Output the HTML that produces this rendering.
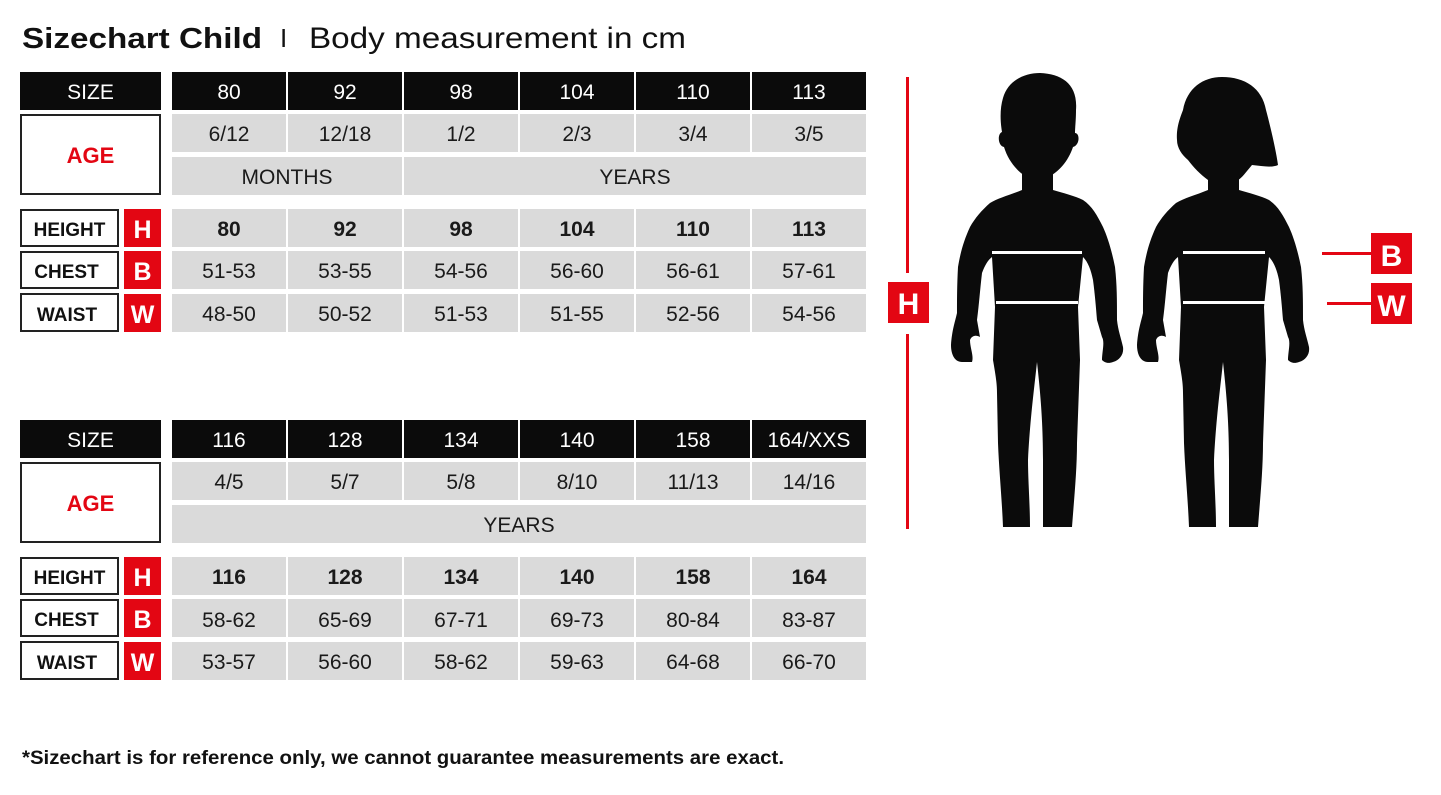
<!DOCTYPE html>
<html><head><meta charset="utf-8"><style>
html,body{margin:0;padding:0;background:#fff;}
svg{display:block;font-family:"Liberation Sans",Arial,sans-serif;}
</style></head><body>
<svg width="1441" height="795" viewBox="0 0 1441 795" xmlns="http://www.w3.org/2000/svg">
<text x="22" y="48" font-size="29" font-weight="bold" fill="#111" textLength="240" lengthAdjust="spacingAndGlyphs">Sizechart Child</text>
<text x="280" y="47" font-size="26" fill="#111">I</text>
<text x="309" y="48" font-size="30" fill="#111" textLength="377" lengthAdjust="spacingAndGlyphs">Body measurement in cm</text>

<g id="t1">
<rect x="20" y="72" width="141" height="38" fill="#0b0b0b"/>
<text x="90.5" y="99" font-size="21" fill="#fff" text-anchor="middle">SIZE</text>
<rect x="21" y="115" width="139" height="79" fill="#fff" stroke="#222" stroke-width="2"/>
<text x="90.5" y="163" font-size="22" font-weight="bold" fill="#e30613" text-anchor="middle">AGE</text>
<rect x="21" y="210" width="97" height="36" fill="#fff" stroke="#222" stroke-width="2"/>
<rect x="21" y="252" width="97" height="36" fill="#fff" stroke="#222" stroke-width="2"/>
<rect x="21" y="294" width="97" height="37" fill="#fff" stroke="#222" stroke-width="2"/>
<text x="69.5" y="236" font-size="19" font-weight="bold" fill="#111" text-anchor="middle">HEIGHT</text>
<text x="66.5" y="278" font-size="19" font-weight="bold" fill="#111" text-anchor="middle">CHEST</text>
<text x="67" y="321" font-size="19" font-weight="bold" fill="#111" text-anchor="middle">WAIST</text>
<rect x="124" y="209" width="37" height="38" fill="#e30613"/>
<rect x="124" y="251" width="37" height="38" fill="#e30613"/>
<rect x="124" y="294" width="37" height="38" fill="#e30613"/>
<text x="142.5" y="238" font-size="25" font-weight="bold" fill="#fff" text-anchor="middle">H</text>
<text x="142.5" y="280" font-size="25" font-weight="bold" fill="#fff" text-anchor="middle">B</text>
<text x="142.5" y="323" font-size="25" font-weight="bold" fill="#fff" text-anchor="middle">W</text>
</g>
<use href="#t1" y="348"/>

<g font-size="21" text-anchor="middle" fill="#1a1a1a">
<g fill="#0b0b0b">
<rect x="172" y="72" width="114" height="38"/><rect x="288" y="72" width="114" height="38"/><rect x="404" y="72" width="114" height="38"/><rect x="520" y="72" width="114" height="38"/><rect x="636" y="72" width="114" height="38"/><rect x="752" y="72" width="114" height="38"/>
<rect x="172" y="420" width="114" height="38"/><rect x="288" y="420" width="114" height="38"/><rect x="404" y="420" width="114" height="38"/><rect x="520" y="420" width="114" height="38"/><rect x="636" y="420" width="114" height="38"/><rect x="752" y="420" width="114" height="38"/>
</g>
<g fill="#dadada">
<rect x="172" y="114" width="114" height="38"/><rect x="288" y="114" width="114" height="38"/><rect x="404" y="114" width="114" height="38"/><rect x="520" y="114" width="114" height="38"/><rect x="636" y="114" width="114" height="38"/><rect x="752" y="114" width="114" height="38"/>
<rect x="172" y="157" width="230" height="38"/><rect x="404" y="157" width="462" height="38"/>
<rect x="172" y="462" width="114" height="38"/><rect x="288" y="462" width="114" height="38"/><rect x="404" y="462" width="114" height="38"/><rect x="520" y="462" width="114" height="38"/><rect x="636" y="462" width="114" height="38"/><rect x="752" y="462" width="114" height="38"/>
<rect x="172" y="505" width="694" height="38"/>
</g>
<g fill="#dadada" id="rows">
<rect x="172" y="209" width="114" height="38"/><rect x="288" y="209" width="114" height="38"/><rect x="404" y="209" width="114" height="38"/><rect x="520" y="209" width="114" height="38"/><rect x="636" y="209" width="114" height="38"/><rect x="752" y="209" width="114" height="38"/>
<rect x="172" y="251" width="114" height="38"/><rect x="288" y="251" width="114" height="38"/><rect x="404" y="251" width="114" height="38"/><rect x="520" y="251" width="114" height="38"/><rect x="636" y="251" width="114" height="38"/><rect x="752" y="251" width="114" height="38"/>
<rect x="172" y="294" width="114" height="38"/><rect x="288" y="294" width="114" height="38"/><rect x="404" y="294" width="114" height="38"/><rect x="520" y="294" width="114" height="38"/><rect x="636" y="294" width="114" height="38"/><rect x="752" y="294" width="114" height="38"/>
</g>
<use href="#rows" y="348"/>

<g fill="#fff">
<text x="229" y="99">80</text><text x="345" y="99">92</text><text x="461" y="99">98</text><text x="577" y="99">104</text><text x="693" y="99">110</text><text x="809" y="99">113</text>
<text x="229" y="447">116</text><text x="345" y="447">128</text><text x="461" y="447">134</text><text x="577" y="447">140</text><text x="693" y="447">158</text><text x="809" y="447">164/XXS</text>
</g>
<text x="229" y="141">6/12</text><text x="345" y="141">12/18</text><text x="461" y="141">1/2</text><text x="577" y="141">2/3</text><text x="693" y="141">3/4</text><text x="809" y="141">3/5</text>
<text x="287" y="184">MONTHS</text><text x="635" y="184">YEARS</text>
<g font-weight="bold"><text x="229" y="236">80</text><text x="345" y="236">92</text><text x="461" y="236">98</text><text x="577" y="236">104</text><text x="693" y="236">110</text><text x="809" y="236">113</text></g>
<text x="229" y="278">51-53</text><text x="345" y="278">53-55</text><text x="461" y="278">54-56</text><text x="577" y="278">56-60</text><text x="693" y="278">56-61</text><text x="809" y="278">57-61</text>
<text x="229" y="321">48-50</text><text x="345" y="321">50-52</text><text x="461" y="321">51-53</text><text x="577" y="321">51-55</text><text x="693" y="321">52-56</text><text x="809" y="321">54-56</text>

<text x="229" y="489">4/5</text><text x="345" y="489">5/7</text><text x="461" y="489">5/8</text><text x="577" y="489">8/10</text><text x="693" y="489">11/13</text><text x="809" y="489">14/16</text>
<text x="519" y="532">YEARS</text>
<g font-weight="bold"><text x="229" y="584">116</text><text x="345" y="584">128</text><text x="461" y="584">134</text><text x="577" y="584">140</text><text x="693" y="584">158</text><text x="809" y="584">164</text></g>
<text x="229" y="627">58-62</text><text x="345" y="627">65-69</text><text x="461" y="627">67-71</text><text x="577" y="627">69-73</text><text x="693" y="627">80-84</text><text x="809" y="627">83-87</text>
<text x="229" y="669">53-57</text><text x="345" y="669">56-60</text><text x="461" y="669">58-62</text><text x="577" y="669">59-63</text><text x="693" y="669">64-68</text><text x="809" y="669">66-70</text>
</g>

<text x="22" y="764" font-size="19" font-weight="bold" fill="#111" textLength="762" lengthAdjust="spacingAndGlyphs">*Sizechart is for reference only, we cannot guarantee measurements are exact.</text>

<rect x="906" y="77" width="3" height="196" fill="#e30613"/>
<rect x="906" y="334" width="3" height="195" fill="#e30613"/>
<rect x="888" y="282" width="41" height="41" fill="#e30613"/>
<text x="908.5" y="314" font-size="30" font-weight="bold" fill="#fff" text-anchor="middle">H</text>
<rect x="1322" y="252" width="50" height="3" fill="#e30613"/>
<rect x="1327" y="302" width="45" height="3" fill="#e30613"/>
<rect x="1371" y="233" width="41" height="41" fill="#e30613"/>
<rect x="1371" y="283" width="41" height="41" fill="#e30613"/>
<text x="1391.5" y="266" font-size="30" font-weight="bold" fill="#fff" text-anchor="middle">B</text>
<text x="1391.5" y="316" font-size="30" font-weight="bold" fill="#fff" text-anchor="middle">W</text>

<!-- body shape -->
<defs>
<path id="body" d="M1022,168 L1022,190 C1010,195 998,198 990,203 C982,210 975,218 970,227 C963,242 960,255 958,267 C957,285 957,300 957,313 C955,322 952,330 951,345 C951,355 955,362 962,362 L972,362 C974,356 970,348 970,340 C972,335 977,335 980,337 L977,320 C979,305 980,290 982,273 C985,265 988,260 992,257 L995,307 L993,360 C995,372 997,382 997,393 L998,443 C999,470 1002,500 1003,527 L1030,527 C1030,505 1028,480 1028,460 C1030,420 1034,390 1037,362 C1040,390 1043,420 1043,460 C1043,480 1043,505 1043,527 L1072,527 C1074,500 1077,470 1077,443 L1080,360 L1078,307 L1083,257 C1088,262 1091,270 1093,280 C1095,295 1096,308 1097,320 L1102,337 C1105,342 1102,352 1102,360 C1106,364 1110,363 1113,362 C1120,360 1124,354 1123,347 C1121,338 1118,330 1117,320 C1117,300 1117,285 1115,267 C1112,252 1108,238 1103,227 C1097,215 1092,206 1083,200 C1075,196 1063,193 1053,190 L1053,168 Z"/>
</defs>
<g fill="#0b0b0b">
<use href="#body"/>
<path d="M1003,98 C1008,80 1025,73 1040,73 C1062,74 1078,84 1076,110 C1076,120 1075,128 1075,133 C1080,133 1080,145 1073,147 C1068,162 1058,172 1050,176 L1025,176 C1016,170 1008,160 1004,147 C998,146 997,134 1002,132 C1000,120 1000,108 1003,98 Z"/>
<use href="#body" x="186"/>
<path d="M1183,110 C1187,88 1203,77 1222,77 C1245,77 1262,88 1266,110 C1270,125 1276,150 1278,165 C1272,168 1262,166 1252,165 C1246,172 1242,178 1238,180 L1208,180 C1200,174 1194,168 1188,160 C1182,155 1177,148 1177,140 C1176,128 1180,118 1183,110 Z"/>
</g>
<rect x="992" y="251" width="90" height="3" fill="#fff"/>
<rect x="996" y="301" width="82" height="3" fill="#fff"/>
<rect x="1183" y="251" width="82" height="3" fill="#fff"/>
<rect x="1183" y="301" width="82" height="3" fill="#fff"/>
</svg>
</body></html>
